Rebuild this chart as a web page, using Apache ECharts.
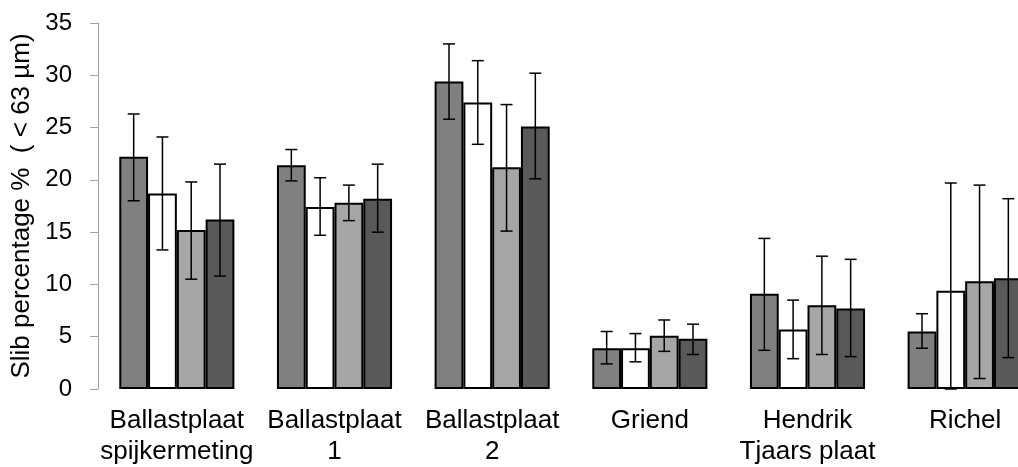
<!DOCTYPE html>
<html>
<head>
<meta charset="utf-8">
<script src="https://cdn.jsdelivr.net/npm/echarts@6/dist/echarts.min.js"></script>
<style>
html,body{margin:0;padding:0;background:#fff;overflow:hidden;width:1018px;height:467px;}
#chart{width:1044px;height:467px;}
</style>
</head>
<body>
<div id="chart"></div>
<script>
var categories = ['Ballastplaat\nspijkermeting', 'Ballastplaat\n1', 'Ballastplaat\n2', 'Griend', 'Hendrik\nTjaars plaat', 'Richel'];
var yTicks = [0, 5, 10, 15, 20, 25, 30, 35];

var s1 = [22.2, 21.4, 29.4, 3.9, 9.1, 5.5];
var s1Hi = [26.3, 22.9, 33.0, 5.5, 14.4, 7.2];
var s1Lo = [18.0, 19.9, 25.8, 2.4, 3.7, 3.9];

var s2 = [18.7, 17.4, 27.4, 3.9, 5.7, 9.4];
var s2Hi = [24.1, 20.2, 31.4, 5.3, 8.5, 19.7];
var s2Lo = [13.3, 14.7, 23.4, 2.6, 2.9, 0];

var s3 = [15.2, 17.8, 21.2, 5.1, 8.0, 10.3];
var s3Hi = [19.8, 19.5, 27.2, 6.6, 12.7, 19.5];
var s3Lo = [10.5, 16.1, 15.1, 3.6, 3.3, 1.0];

var s4 = [16.2, 18.2, 25.1, 4.8, 7.7, 10.6];
var s4Hi = [21.5, 21.5, 30.2, 6.2, 12.4, 18.2];
var s4Lo = [10.8, 15.0, 20.1, 3.3, 3.1, 3.0];

var seriesNames = ['Serie 1', 'Serie 2', 'Serie 3', 'Serie 4'];
var colors = ['#808080', '#ffffff', '#a6a6a6', '#595959'];

var vals = [s1, s2, s3, s4];
var his = [s1Hi, s2Hi, s3Hi, s4Hi];
var los = [s1Lo, s2Lo, s3Lo, s4Lo];

var CAT_GAP = 0.27;
var FONT = '"Liberation Sans", Arial, sans-serif';

var series = [];
vals.forEach(function (v, i) {
  series.push({
    name: seriesNames[i],
    type: 'bar',
    data: v,
    barGap: '0%',
    barCategoryGap: (CAT_GAP * 100) + '%',
    itemStyle: { color: colors[i], borderColor: '#000', borderWidth: 2 },
    z: 2
  });
});
vals.forEach(function (v, i) {
  var data = categories.map(function (c, k) { return [k, los[i][k], his[i][k]]; });
  series.push({
    name: seriesNames[i] + ' err',
    type: 'custom',
    data: data,
    z: 5,
    renderItem: function (params, api) {
      var k = api.value(0);
      var lo = api.coord([k, api.value(1)]);
      var hi = api.coord([k, api.value(2)]);
      var band = api.size([1, 0])[0];
      var bw = band * (1 - CAT_GAP) / 4;
      var off = (i - 1.5) * bw;
      var x = lo[0] + off;
      var cap = 6;
      var st = { stroke: '#000', lineWidth: 1.5 };
      return {
        type: 'group',
        children: [
          { type: 'line', shape: { x1: x, y1: lo[1], x2: x, y2: hi[1] }, style: st },
          { type: 'line', shape: { x1: x - cap, y1: hi[1], x2: x + cap, y2: hi[1] }, style: st },
          { type: 'line', shape: { x1: x - cap, y1: lo[1], x2: x + cap, y2: lo[1] }, style: st }
        ]
      };
    }
  });
});

var chart = echarts.init(document.getElementById('chart'));
chart.setOption({
  animation: false,
  backgroundColor: '#fff',
  textStyle: { fontFamily: FONT },
  grid: { left: 98, top: 23, bottom: 78, right: 0, containLabel: false },
  xAxis: {
    type: 'category',
    data: categories,
    axisLine: { show: false },
    axisTick: { show: false },
    axisLabel: { color: '#000', fontSize: 26, lineHeight: 31, margin: 16, fontFamily: FONT, interval: 0 }
  },
  yAxis: {
    type: 'value',
    min: yTicks[0],
    max: yTicks[yTicks.length - 1],
    interval: 5,
    name: 'Slib percentage %  ( < 63 µm)',
    nameLocation: 'middle',
    nameGap: 61,
    nameTextStyle: { color: '#000', fontSize: 26, fontFamily: FONT },
    axisLine: { show: true, lineStyle: { color: '#a0a0a0', width: 1 } },
    axisTick: { show: true, length: 8, lineStyle: { color: '#a0a0a0' } },
    splitLine: { show: false },
    axisLabel: { color: '#000', fontSize: 24, margin: 26, fontFamily: FONT }
  },
  series: series
});
</script>
</body>
</html>
